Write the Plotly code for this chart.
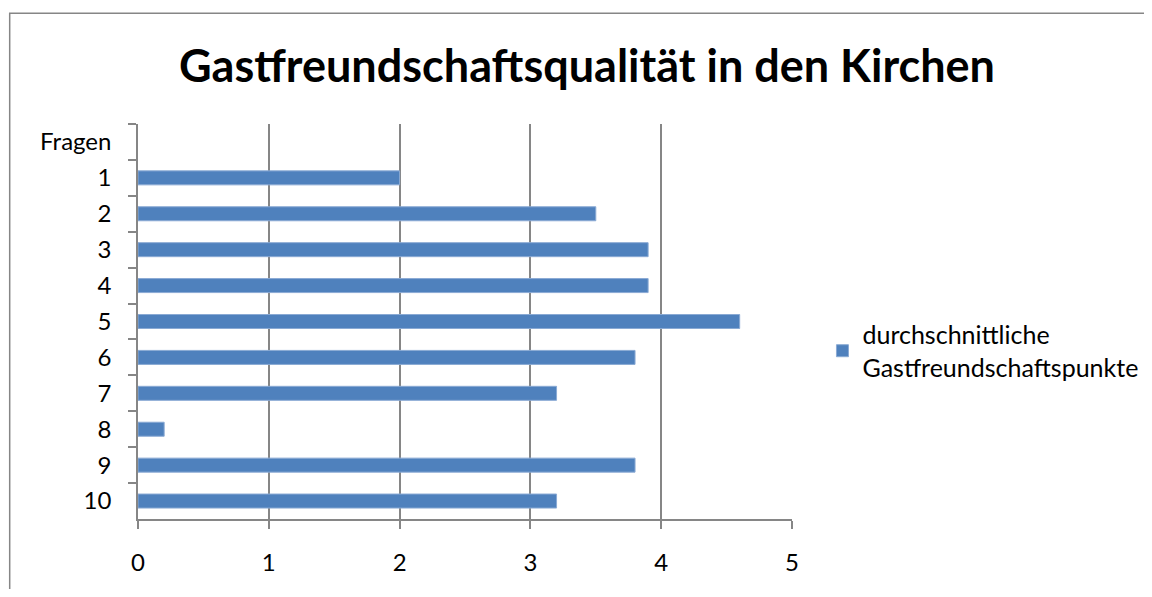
import plotly.graph_objects as go

categories = ["Fragen", "1", "2", "3", "4", "5", "6", "7", "8", "9", "10"]
values = [None, 2.0, 3.5, 3.9, 3.9, 4.6, 3.8, 3.2, 0.2, 3.8, 3.2]
series_name = "durchschnittliche<br>Gastfreundschaftspunkte"
title_text = "Gastfreundschaftsqualität in den Kirchen"
x_ticks = [0, 1, 2, 3, 4, 5]

W, H = 1152, 597
OFF = 8  # default body margin of the page
L, R = 137.5, 792.5
T, B = 124, 519.5

GREY = "#868686"
BLUE = "#4F81BD"
FONT = "Lato"

fig = go.Figure()
fig.add_trace(go.Bar(
    y=categories, x=values, orientation="h", name=series_name,
    marker=dict(color=BLUE, line=dict(color="#8AAAD4", width=1)),
    showlegend=True,
))

pw = R - L
ph = B - T

def px_x(x):
    return (x - L) / pw

def px_y(y):
    return (B - y) / ph

frame_path = "M {:.5f},{:.5f} L {:.5f},{:.5f} L {:.5f},{:.5f}".format(
    px_x(9), px_y(600), px_x(9), px_y(13), px_x(1160), px_y(13))

fig.update_layout(
    width=W - 2 * OFF, height=H - 2 * OFF,
    margin=dict(l=L - OFF, r=W - R - OFF, t=T - OFF, b=H - B - OFF, pad=0,
                autoexpand=False),
    paper_bgcolor="white", plot_bgcolor="white",
    bargap=0.61,
    font=dict(family=FONT, size=24, color="black"),
    title=dict(text=title_text, x=(587 - OFF) / (W - 2 * OFF), xanchor="center",
               y=1 - (66 - OFF) / (H - 2 * OFF), yanchor="middle",
               font=dict(family=FONT, size=45, color="black", weight="bold")),
    xaxis=dict(range=[0, 5], tickvals=x_ticks, ticks="outside", ticklen=8,
               tickcolor=GREY, tickwidth=1.5, showline=True, linecolor=GREY,
               linewidth=1.5, showgrid=True, gridcolor=GREY, gridwidth=1.5,
               zeroline=False, ticklabelstandoff=13,
               tickfont=dict(family=FONT, size=24, color="black")),
    yaxis=dict(type="category", categoryorder="array", categoryarray=categories,
               autorange="reversed", tickson="boundaries", ticks="outside",
               ticklen=8, tickcolor=GREY, tickwidth=1.5, showline=True,
               linecolor=GREY, linewidth=1.5, showgrid=False, zeroline=False,
               ticklabelstandoff=20,
               tickfont=dict(family=FONT, size=24, color="black")),
    legend=dict(x=px_x(823), xanchor="left", y=px_y(351), yanchor="middle",
                font=dict(family=FONT, size=25, color="black"),
                bgcolor="rgba(0,0,0,0)"),
    shapes=[dict(type="path", xref="paper", yref="paper", path=frame_path,
                 line=dict(color=GREY, width=1.5), layer="below")],
)

fig.write_html("out.html")
